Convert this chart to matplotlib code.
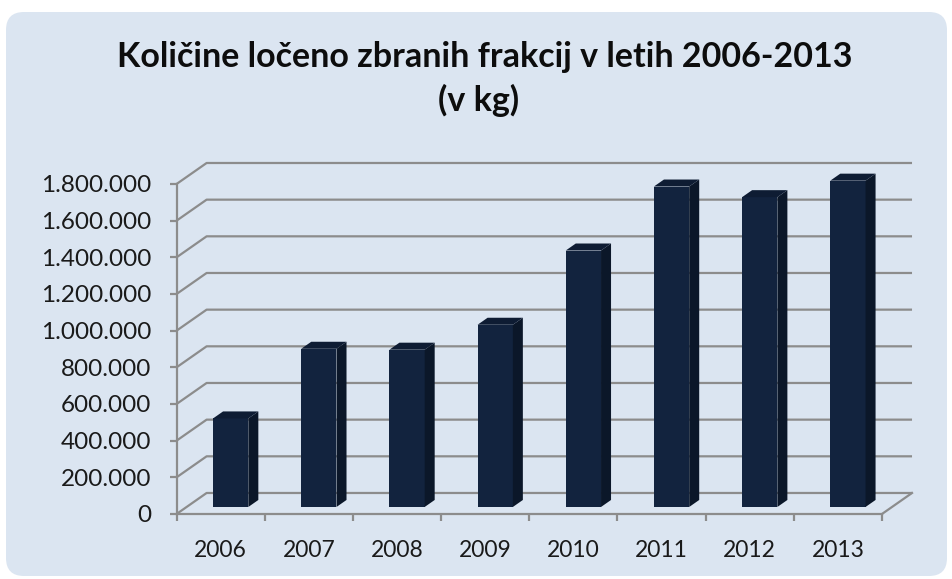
import matplotlib.pyplot as plt
from matplotlib.patches import Polygon, FancyBboxPatch

# Data
years = ["2006", "2007", "2008", "2009", "2010", "2011", "2012", "2013"]
kolicine = [483000, 863000, 858000, 994000, 1399000, 1748000, 1690000, 1780000]
y_ticks = [0, 200000, 400000, 600000, 800000, 1000000, 1200000, 1400000, 1600000, 1800000]
y_labels = [f"{v:,}".replace(",", ".") for v in y_ticks]
title_line1 = "Količine ločeno zbranih frakcij v letih 2006-2013"
title_line2 = "(v kg)"

BG = "#dbe5f1"
GRID = "#8c8c8c"
FRONT = "#12233e"
SIDE = "#0b1729"
TOP = "#0e1c33"

plt.rcParams["font.family"] = ["Lato", "DejaVu Sans"]

fig = plt.figure(figsize=(9.53, 5.79), dpi=100)
fig.patch.set_facecolor("white")

# rounded chart area
bg = FancyBboxPatch((0.06, 0.03), 9.41, 5.64, boxstyle="round,pad=0,rounding_size=0.18",
                    transform=fig.dpi_scale_trans, facecolor=BG, edgecolor="none", zorder=-5)
fig.patches.append(bg)

ax = fig.add_axes([0.1853, 0.1123, 0.7717, 0.6062])
ax.set_facecolor("none")

# 3D depth offsets in data units
DX = 30 / 88.07
DY = 21 * 1800000 / 330
ymax = y_ticks[-1]
n = len(years)

ax.set_xlim(-0.5, n - 0.5 + DX)
ax.set_ylim(0, ymax + DY)

# side wall + back wall gridlines
for v in y_ticks:
    ax.plot([-0.5, -0.5 + DX, n - 0.5 + DX], [v, v + DY, v + DY],
            color=GRID, lw=1.6, zorder=1, solid_capstyle="butt", clip_on=False)
# floor right edge
ax.plot([n - 0.5, n - 0.5 + DX], [0, DY], color=GRID, lw=1.6, zorder=1, clip_on=False)

# bars (front face, side, top), placed in middle of depth
w = 0.4
xs = [i + DX / 3 for i in range(n)]
base = DY / 3
ax.bar(xs, kolicine, width=w, bottom=base, color=FRONT, zorder=3)
for x, v in zip(xs, kolicine):
    xl, xr = x - w / 2, x + w / 2
    top = base + v
    ax.add_patch(Polygon([(xr, base), (xr + DX / 3, base + DY / 3),
                          (xr + DX / 3, top + DY / 3), (xr, top)],
                         closed=True, facecolor=SIDE, edgecolor="none", zorder=3))
    ax.add_patch(Polygon([(xl, top), (xr, top), (xr + DX / 3, top + DY / 3),
                          (xl + DX / 3, top + DY / 3)],
                         closed=True, facecolor=TOP, edgecolor="none", zorder=3))

# axes
for s in ["top", "right"]:
    ax.spines[s].set_visible(False)
ax.spines["left"].set_bounds(0, ymax)
ax.spines["bottom"].set_bounds(-0.5, n - 0.5)
for s in ["left", "bottom"]:
    ax.spines[s].set_color(GRID)
    ax.spines[s].set_linewidth(1.6)

ax.set_yticks(y_ticks)
ax.set_yticklabels(y_labels)
ax.tick_params(axis="y", length=5, width=1.6, color=GRID, pad=13, labelsize=17.5,
               labelcolor="#1a1a1a")

ax.set_xticks(range(n))
ax.set_xticklabels(years)
ax.set_xticks([i - 0.5 for i in range(n + 1)], minor=True)
ax.tick_params(axis="x", which="major", length=0, pad=19, labelsize=16.5, labelcolor="#1a1a1a")
ax.tick_params(axis="x", which="minor", length=5, width=1.6, color=GRID)

fig.text(0.509, 0.9016, title_line1, ha="center", va="center", fontsize=24.5,
         fontweight="bold", color="#0d0d0d")
fig.text(0.502, 0.827, title_line2, ha="center", va="center", fontsize=24.5,
         fontweight="bold", color="#0d0d0d")

fig.savefig("out.png", dpi=100, facecolor=fig.get_facecolor())
